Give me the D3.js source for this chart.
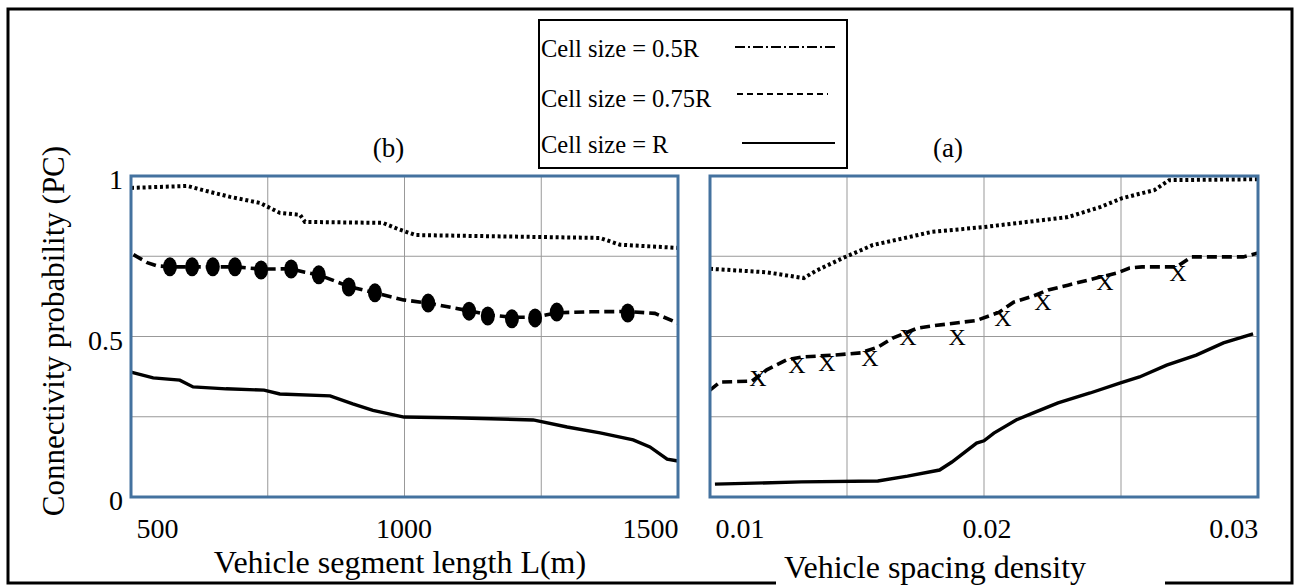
<!DOCTYPE html>
<html>
<head>
<meta charset="utf-8">
<script src="https://cdn.jsdelivr.net/npm/d3@7"></script>
<style>
  body { margin: 0; background: #fff; }
  svg { display: block; font-family: "Liberation Serif", "Times New Roman", serif; }
</style>
</head>
<body>
<div id="chart"></div>
<script>
// ---- panel (b): connectivity vs vehicle segment length ----
const lenTicks = [500, 1000, 1500];
const lenQuarterR = [[447,0.963],[561,0.969],[593,0.956],[648,0.935],[709,0.916],[749,0.885],[790,0.879],[800,0.857],
  [958,0.854],[990,0.834],[1025,0.816],[1399,0.807],[1439,0.786],[1557,0.776]];
const lenHalfR = [[452,0.755],[480,0.73],[500,0.72],[526,0.717],[571,0.717],[613,0.717],[658,0.717],[711,0.71],
  [772,0.711],[800,0.70],[828,0.692],[889,0.656],[942,0.636],[1000,0.614],[1050,0.604],[1133,0.58],[1171,0.568],
  [1220,0.56],[1267,0.56],[1311,0.574],[1380,0.577],[1455,0.578],[1510,0.572],[1557,0.542]];
const lenFullR = [[447,0.389],[492,0.371],[546,0.364],[573,0.343],[640,0.337],[717,0.333],[749,0.321],[851,0.315],
  [897,0.29],[938,0.27],[1001,0.249],[1100,0.247],[1263,0.24],[1332,0.218],[1399,0.2],[1466,0.178],[1500,0.156],
  [1535,0.118],[1557,0.112]];
const lenDotX = [526,571,613,658,711,772,828,889,942,1050,1133,1171,1220,1267,1311,1455];
const lenDotY = [0.717,0.717,0.717,0.717,0.707,0.710,0.692,0.654,0.636,0.604,0.579,0.564,0.555,0.558,0.576,0.573];

// ---- panel (a): connectivity vs vehicle spacing density ----
const denTicks = [0.01, 0.02, 0.03];
const denQuarterR = [[0.0088,0.711],[0.0111,0.70],[0.0126,0.682],[0.0131,0.705],[0.0142,0.745],[0.0154,0.785],
  [0.0178,0.826],[0.0199,0.841],[0.0233,0.872],[0.0246,0.903],[0.0255,0.931],[0.0268,0.956],[0.0274,0.987],[0.031,0.99]];
const denHalfR = [[0.0088,0.333],[0.0092,0.358],[0.0105,0.361],[0.0111,0.396],[0.0119,0.427],[0.0125,0.436],
  [0.0138,0.442],[0.0149,0.449],[0.0156,0.467],[0.0162,0.495],[0.0172,0.526],[0.0178,0.533],[0.0196,0.55],
  [0.0205,0.575],[0.0211,0.607],[0.0219,0.626],[0.0225,0.645],[0.0233,0.66],[0.0246,0.685],[0.0253,0.698],
  [0.0258,0.713],[0.0263,0.717],[0.0277,0.717],[0.0283,0.748],[0.0304,0.748],[0.031,0.76]];
const denFullR = [[0.0090,0.040],[0.0125,0.047],[0.0156,0.05],[0.0168,0.065],[0.0181,0.084],[0.0186,0.109],
  [0.0196,0.168],[0.0199,0.175],[0.0203,0.199],[0.0212,0.24],[0.0219,0.262],[0.0229,0.293],[0.0242,0.324],
  [0.0254,0.355],[0.0262,0.374],[0.0273,0.411],[0.0285,0.442],[0.0296,0.48],[0.0308,0.508]];
const denCrossX = [0.01074,0.01232,0.01354,0.01528,0.01682,0.01881,0.02067,0.02229,0.0248,0.02776];
const denCrossY = [0.371,0.411,0.417,0.433,0.498,0.498,0.558,0.607,0.67,0.698];

const pcTicks = [0, 0.5, 1];
const pcGrid = [0.25, 0.5, 0.75];
const legendLabels = ["Cell size = 0.5R", "Cell size = 0.75R", "Cell size = R"];

document.addEventListener("DOMContentLoaded", function() {
    const width = 1295, height = 585;
    const svg = d3.select("#chart").append("svg")
        .attr("width", width)
        .attr("height", height);

    svg.append("rect")
        .attr("x", 8).attr("y", 9)
        .attr("width", 1284).attr("height", 574)
        .attr("fill", "#fff").attr("stroke", "#000").attr("stroke-width", 3);

    const y = d3.scaleLinear().domain([0, 1]).range([497, 176]);
    const frameBlue = "#44729f";

    function drawPanel(p) {
        const x = d3.scaleLinear().domain(p.domain).range(p.range);
        const g = svg.append("g");
        const [d0, d1] = p.domain;
        const vGrid = [1, 2, 3].map(i => d0 + (d1 - d0) * i / 4);

        g.selectAll(".vgrid").data(vGrid).enter().append("line")
            .attr("x1", d => x(d)).attr("x2", d => x(d))
            .attr("y1", y(0)).attr("y2", y(1))
            .attr("stroke", "#999").attr("stroke-width", 1);
        g.selectAll(".hgrid").data(pcGrid).enter().append("line")
            .attr("x1", p.range[0]).attr("x2", p.range[1])
            .attr("y1", d => y(d)).attr("y2", d => y(d))
            .attr("stroke", "#999").attr("stroke-width", 1);

        const line = d3.line().x(d => x(d[0])).y(d => y(d[1]));

        g.append("path").datum(p.quarter)
            .attr("d", line).attr("fill", "none")
            .attr("stroke", "#000").attr("stroke-width", 4)
            .attr("stroke-dasharray", "3,2.8");
        g.append("path").datum(p.half)
            .attr("d", line).attr("fill", "none")
            .attr("stroke", "#000").attr("stroke-width", 3.6)
            .attr("stroke-dasharray", "10,5");
        g.append("path").datum(p.full)
            .attr("d", line).attr("fill", "none")
            .attr("stroke", "#000").attr("stroke-width", 3.4);

        if (p.dots) {
            g.selectAll(".dot").data(p.dots[0]).enter().append("ellipse")
                .attr("cx", d => x(d)).attr("cy", (d, i) => y(p.dots[1][i]))
                .attr("rx", 7).attr("ry", 9.5).attr("fill", "#000");
        }
        if (p.crosses) {
            g.selectAll(".cross").data(p.crosses[0]).enter().append("text")
                .attr("x", d => x(d)).attr("y", (d, i) => y(p.crosses[1][i]))
                .attr("dy", "0.33em")
                .attr("text-anchor", "middle")
                .style("font-size", "24px")
                .text("X");
        }

        g.append("rect")
            .attr("x", p.range[0]).attr("y", y(1))
            .attr("width", p.range[1] - p.range[0]).attr("height", y(0) - y(1))
            .attr("fill", "none").attr("stroke", frameBlue).attr("stroke-width", 3);

        const xAxis = g.append("g")
            .attr("transform", `translate(0,${y(0)})`)
            .call(d3.axisBottom(x).tickValues(p.ticks).tickSize(0).tickPadding(21).tickFormat(p.format));
        xAxis.select(".domain").remove();
        xAxis.selectAll("text")
            .style("font-family", "Liberation Serif, serif")
            .style("font-size", "28px").attr("fill", "#000");

        g.append("text")
            .attr("x", (p.range[0] + p.range[1]) / 2 + p.titleShift).attr("y", 157)
            .attr("text-anchor", "middle")
            .style("font-size", "27px")
            .text(p.title);

        g.append("text")
            .attr("x", p.labelX).attr("y", p.labelY)
            .attr("text-anchor", "middle")
            .style("font-size", "32px")
            .text(p.label);
        return x;
    }

    // cut in the outer frame under the right axis title
    svg.append("rect")
        .attr("x", 776).attr("y", 578).attr("width", 389).attr("height", 7)
        .attr("fill", "#fff");

    drawPanel({
        domain: [447, 1557], range: [131, 678],
        ticks: lenTicks, format: d3.format("d"),
        quarter: lenQuarterR, half: lenHalfR, full: lenFullR,
        dots: [lenDotX, lenDotY],
        title: "(b)", titleShift: -16,
        label: "Vehicle segment length L(m)", labelX: 400, labelY: 573
    });

    drawPanel({
        domain: [0.0088, 0.031], range: [710, 1258],
        ticks: denTicks, format: d => d.toFixed(2),
        quarter: denQuarterR, half: denHalfR, full: denFullR,
        crosses: [denCrossX, denCrossY],
        title: "(a)", titleShift: -36,
        label: "Vehicle spacing density", labelX: 935, labelY: 578
    });

    // y axis on the left panel
    const yAxis = svg.append("g")
        .attr("transform", "translate(131,0)")
        .call(d3.axisLeft(y).tickValues(pcTicks).tickSize(0).tickPadding(8).tickFormat(d3.format("")));
    yAxis.select(".domain").remove();
    yAxis.selectAll("text")
        .attr("dy", "0.45em")
        .style("font-family", "Liberation Serif, serif")
        .style("font-size", "28px").attr("fill", "#000");

    svg.append("text")
        .attr("transform", "translate(64,331) rotate(-90)")
        .attr("text-anchor", "middle")
        .style("font-size", "31px")
        .text("Connectivity probability (PC)");

    // legend
    const legend = svg.append("g");
    legend.append("rect")
        .attr("x", 539).attr("y", 20).attr("width", 308).attr("height", 148)
        .attr("fill", "#fff").attr("stroke", "#000").attr("stroke-width", 2);

    const legendRows = [
        {base: 57, ly: 47, x1: 735, x2: 835, dash: "10,3,2,3"},
        {base: 107, ly: 94, x1: 737, x2: 828, dash: "6,4"},
        {base: 153, ly: 143, x1: 742, x2: 835, dash: null}
    ];
    legend.selectAll(".ltext").data(legendLabels).enter().append("text")
        .attr("x", 541).attr("y", (d, i) => legendRows[i].base)
        .style("font-size", "24.5px")
        .text(d => d);
    legend.selectAll(".lline").data(legendRows).enter().append("line")
        .attr("x1", d => d.x1).attr("x2", d => d.x2)
        .attr("y1", d => d.ly).attr("y2", d => d.ly)
        .attr("stroke", "#000").attr("stroke-width", 2)
        .attr("stroke-dasharray", d => d.dash);
});
</script>
</body>
</html>
